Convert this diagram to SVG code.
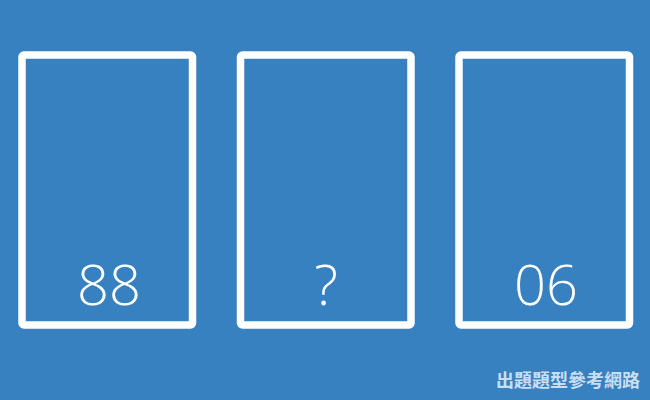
<svg xmlns="http://www.w3.org/2000/svg" width="650" height="400" viewBox="0 0 650 400">
<style>
.card{fill:none;stroke:#ffffff;stroke-width:7.5;stroke-linejoin:round}
.num{font-family:"Open Sans","Liberation Sans",sans-serif;font-size:56px;fill:#ffffff;text-anchor:middle;font-weight:300}
.wm{font-family:"Noto Sans CJK TC","Noto Sans CJK SC",sans-serif;font-size:18px;font-weight:bold;fill:#c9def2;text-anchor:middle}
</style>
<rect width="650" height="400" fill="#3781c0"/>
<g id="card1"><rect class="card" x="22" y="55" width="170.5" height="270" rx="2"/><text class="num" x="109" y="305">88</text></g>
<g id="card2"><rect class="card" x="240.5" y="55" width="170.5" height="270" rx="2"/><text class="num" x="326" y="305">?</text></g>
<g id="card3"><rect class="card" x="459" y="55" width="170.5" height="270" rx="2"/><text class="num" x="546" y="305">06</text></g>
<g id="connectors"/>
<text class="wm" x="568" y="387">出題題型參考網路</text>
</svg>
